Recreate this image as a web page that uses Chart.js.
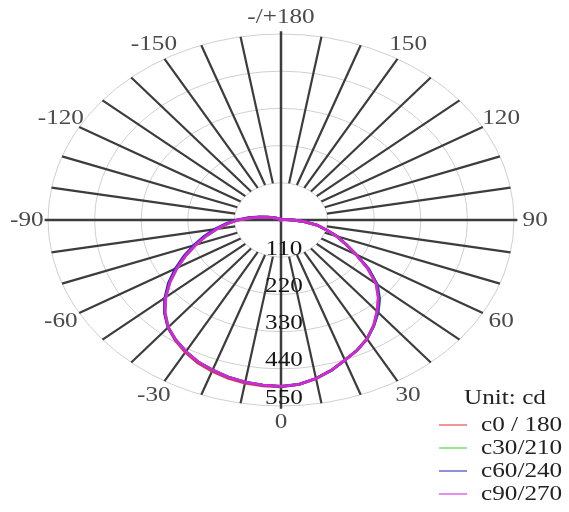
<!DOCTYPE html>
<html>
<head>
<meta charset="utf-8">
<script src="https://cdn.jsdelivr.net/npm/chart.js@4.4.1/dist/chart.umd.min.js"></script>
<style>
  html, body { margin: 0; padding: 0; background: #ffffff; }
  #wrap { width: 569px; height: 512px; }
</style>
</head>
<body>
<div id="wrap"><canvas id="c" width="569" height="512"></canvas></div>
<script>
// ---- data ----
const gammaAngles = [-180,-175,-170,-165,-160,-155,-150,-145,-140,-135,-130,-125,-120,-115,-110,-105,-100,-95,-90,-85,-80,-75,-70,-65,-60,-55,-50,-45,-40,-35,-30,-25,-20,-15,-10,-5,0,5,10,15,20,25,30,35,40,45,50,55,60,65,70,75,80,85,90,95,100,105,110,115,120,125,130,135,140,145,150,155,160,165,170,175,180];

const seriesNames = ["c0 / 180", "c30/210", "c60/240", "c90/270"];
const seriesColors = ["#e23a3a", "#3ccf3c", "#2a2ab8", "#d22ad2"];

const c0_180   = [0,0,1,1,2,2,3,3,4,5,6,8,10,14,20,32,50,74,102,127,154,183,214,248,285,321,356,388,415,435,452,466,476,484,490,492,493,488,476,460,441,425,406,381,353,325,293,250,205,169,140,110,86,55,28,12,6,4,3,2,2,2,1,1,1,1,1,0,0,0,0,0,0];
const c30_210  = [0,0,1,1,2,2,3,3,4,5,6,8,10,14,20,32,50,74,102,127,154,183,214,248,283,320,355,387,414,433,449,463,472,481,487,490,492,488,476,460,441,425,406,382,357,330,297,252,205,169,140,110,86,55,28,12,6,4,3,2,2,2,1,1,1,1,1,0,0,0,0,0,0];
const c60_240  = [0,0,1,1,2,2,3,3,4,5,6,8,10,14,21,33,52,77,105,131,159,188,219,253,288,324,358,389,415,433,449,463,472,481,487,490,492,488,476,460,441,425,406,382,356,328,296,253,206,169,140,110,86,55,28,12,6,4,3,2,2,2,1,1,1,1,1,0,0,0,0,0,0];
const c90_270  = [0,0,1,1,2,2,3,3,4,5,6,8,10,14,20,32,50,74,102,127,154,183,214,248,283,320,355,387,414,433,449,463,472,481,487,490,492,488,476,460,441,425,406,381,353,325,293,250,205,169,140,110,86,55,28,12,6,4,3,2,2,2,1,1,1,1,1,0,0,0,0,0,0];
const seriesValues = [c0_180, c30_210, c60_240, c90_270];

const ringValues = [110, 220, 330, 440, 550];
const ringLabels = ["110", "220", "330", "440", "550"];
const angleTickValues = [180, 150, 120, 90, 60, 30, 0, -30, -60, -90, -120, -150];
const angleTickLabels = ["-/+180", "150", "120", "90", "60", "30", "0", "-30", "-60", "-90", "-120", "-150"];
const spokeStep = 10;
const unitLabel = "Unit: cd";

// ---- build ----
const rad = d => d * Math.PI / 180;
function toXY(angle, v) {
  return { x: v * Math.sin(rad(angle)), y: -v * Math.cos(rad(angle)) };
}
const drawOrder = [3, 2, 1, 0];
const datasets = seriesNames.map((name, i) => ({
  label: name,
  data: gammaAngles.map((a, k) => toXY(a, seriesValues[i][k])),
  showLine: true,
  borderColor: seriesColors[i],
  backgroundColor: seriesColors[i],
  borderWidth: 2.8,
  pointRadius: 0,
  tension: 0,
  clip: false,
  order: drawOrder[i]
}));

const FONT = "'Liberation Serif', 'Times New Roman', serif";
const STRETCH = 1.2;
function stretchedText(ctx, text, x, y, size, color, align) {
  ctx.save();
  ctx.font = size + "px " + FONT;
  ctx.fillStyle = color;
  ctx.textBaseline = "middle";
  ctx.textAlign = align || "center";
  ctx.translate(x, y);
  ctx.scale(STRETCH, 1);
  ctx.fillText(text, 0, 0);
  ctx.restore();
}

const polarGrid = {
  id: 'polarGrid',
  beforeDatasetsDraw(chart) {
    const ctx = chart.ctx, xs = chart.scales.x, ys = chart.scales.y;
    const px = (a, v) => { const p = toXY(a, v); return [xs.getPixelForValue(p.x), ys.getPixelForValue(p.y)]; };
    const cx = xs.getPixelForValue(0), cy = ys.getPixelForValue(0);
    ctx.save();
    // rings
    ctx.strokeStyle = "#cfcfcf";
    ctx.lineWidth = 1;
    ringValues.forEach(r => {
      const rx = xs.getPixelForValue(r) - cx, ry = cy - ys.getPixelForValue(r);
      ctx.beginPath();
      ctx.ellipse(cx, cy, rx, ry, 0, 0, Math.PI * 2);
      ctx.stroke();
    });
    // spokes
    const rIn = ringValues[0], rOut = ringValues[ringValues.length - 1];
    ctx.strokeStyle = "#3c3c3c";
    ctx.lineWidth = 2.2;
    for (let a = -180; a < 180; a += spokeStep) {
      if (a % 90 === 0) continue;
      const p1 = px(a, rIn), p2 = px(a, rOut);
      ctx.beginPath(); ctx.moveTo(p1[0], p1[1]); ctx.lineTo(p2[0], p2[1]); ctx.stroke();
    }
    // main axes through centre
    ctx.lineWidth = 2.5;
    [[0, 180], [90, -90]].forEach(([a, b]) => {
      const p1 = px(a, rOut + 8), p2 = px(b, rOut + 8);
      ctx.beginPath(); ctx.moveTo(p1[0], p1[1]); ctx.lineTo(p2[0], p2[1]); ctx.stroke();
    });
    ctx.restore();
  },
  afterDatasetsDraw(chart) {
    const ctx = chart.ctx, xs = chart.scales.x, ys = chart.scales.y;
    const cx = xs.getPixelForValue(0);
    // ring labels along the 0 axis
    ringValues.forEach((r, i) => {
      stretchedText(ctx, ringLabels[i], cx + 3, ys.getPixelForValue(-r) - 8, 21, "#151515");
    });
    // angle labels
    angleTickValues.forEach((a, i) => {
      const p = toXY(a, 600);
      stretchedText(ctx, angleTickLabels[i], xs.getPixelForValue(p.x), ys.getPixelForValue(p.y), 21, "#4a4a4a");
    });
    // legend
    stretchedText(ctx, unitLabel, 505, 398, 21, "#222");
    const rowY = [425, 448, 471, 494];
    seriesNames.forEach((n, i) => {
      ctx.save();
      ctx.strokeStyle = seriesColors[i];
      ctx.globalAlpha = 0.7;
      ctx.lineWidth = 1.5;
      ctx.beginPath(); ctx.moveTo(439, rowY[i]); ctx.lineTo(467, rowY[i]); ctx.stroke();
      ctx.restore();
      stretchedText(ctx, n, 481, rowY[i], 21, "#222", "left");
    });
  }
};

new Chart(document.getElementById('c'), {
  type: 'scatter',
  data: { datasets },
  options: {
    responsive: false,
    animation: false,
    devicePixelRatio: 1,
    layout: { padding: { left: 48, right: 55, top: 34, bottom: 106 } },
    scales: {
      x: { type: 'linear', min: -550, max: 550, display: false },
      y: { type: 'linear', min: -550, max: 550, display: false }
    },
    plugins: { legend: { display: false }, tooltip: { enabled: false } }
  },
  plugins: [polarGrid]
});
</script>
</body>
</html>
